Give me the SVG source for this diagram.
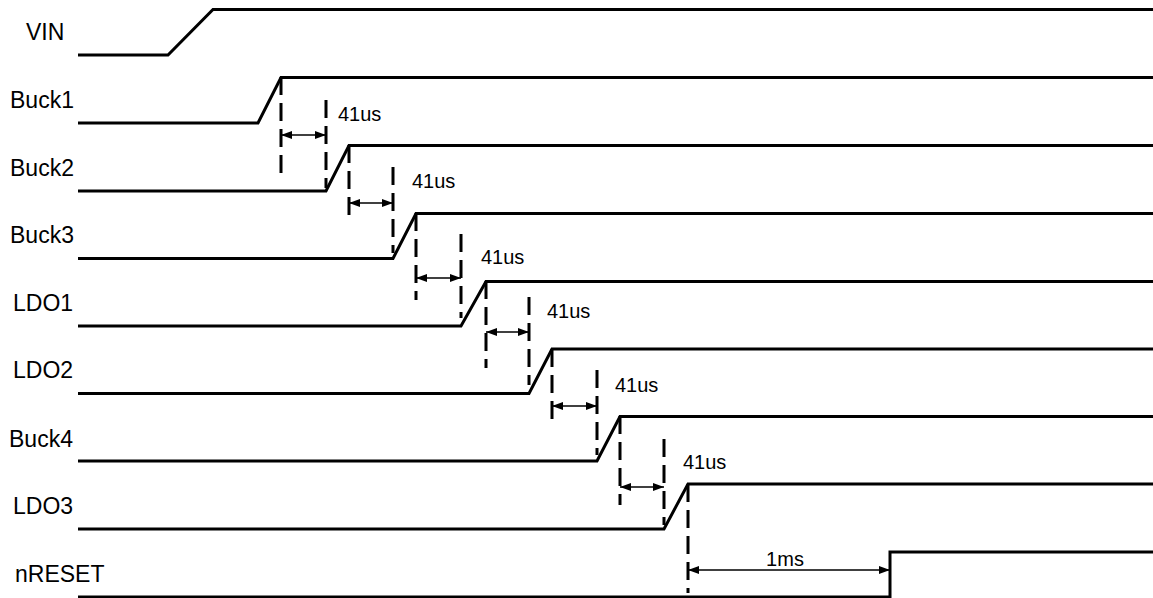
<svg xmlns="http://www.w3.org/2000/svg" width="1153" height="598" viewBox="0 0 1153 598">
<defs>
<style>
.sig{fill:none;stroke:#000;stroke-width:3;stroke-linejoin:miter}
.dash{fill:none;stroke:#000;stroke-width:3;stroke-dasharray:18 8}
.arr{fill:none;stroke:#000;stroke-width:1.5;marker-start:url(#ah);marker-end:url(#ah)}
.lbl{font-family:"Liberation Sans",Arial,sans-serif;font-size:23px;fill:#000}
.t{font-family:"Liberation Sans",Arial,sans-serif;font-size:20px;fill:#000}
</style>
<marker id="ah" markerUnits="userSpaceOnUse" markerWidth="12" markerHeight="10" refX="11" refY="4" orient="auto-start-reverse">
<path d="M0,0 L11,4 L0,8 z" fill="#000"/>
</marker>
</defs>
<rect width="1153" height="598" fill="#fff"/>
<g id="VIN"><text class="lbl" x="26" y="40">VIN</text><path class="sig" d="M78,55 H168 L213,9.5 H1153"/></g>
<g id="Buck1"><text class="lbl" x="10" y="108">Buck1</text><path class="sig" d="M78,123 H258 L281,77.5 H1153"/></g>
<g id="Buck2"><text class="lbl" x="10" y="176">Buck2</text><path class="sig" d="M78,191 H326 L349,145.5 H1153"/></g>
<g id="Buck3"><text class="lbl" x="10" y="243">Buck3</text><path class="sig" d="M78,258.5 H393 L416,213.5 H1153"/></g>
<g id="LDO1"><text class="lbl" x="13" y="311">LDO1</text><path class="sig" d="M78,326 H461 L486,281.5 H1153"/></g>
<g id="LDO2"><text class="lbl" x="13" y="378">LDO2</text><path class="sig" d="M78,393.5 H529 L552,349 H1153"/></g>
<g id="Buck4"><text class="lbl" x="9" y="447">Buck4</text><path class="sig" d="M78,461 H597 L620,416.5 H1153"/></g>
<g id="LDO3"><text class="lbl" x="13" y="514">LDO3</text><path class="sig" d="M78,529 H664 L688,484 H1153"/></g>
<g id="nRESET"><text class="lbl" x="15" y="582">nRESET</text><path class="sig" d="M78,597 H890 V552 H1153"/></g>
<g id="connectors">
<line class="dash" x1="281" y1="77" x2="281" y2="173"/>
<line class="dash" x1="326" y1="100" x2="326" y2="188"/>
<line class="arr" x1="281" y1="135" x2="326" y2="135"/>
<text class="t" x="338" y="121">41us</text>

<line class="dash" x1="349" y1="145" x2="349" y2="222"/>
<line class="dash" x1="393" y1="167" x2="393" y2="253"/>
<line class="arr" x1="349" y1="203" x2="393" y2="203"/>
<text class="t" x="412" y="188">41us</text>

<line class="dash" x1="416" y1="213" x2="416" y2="300"/>
<line class="dash" x1="461" y1="234" x2="461" y2="318"/>
<line class="arr" x1="416" y1="278" x2="461" y2="278"/>
<text class="t" x="481" y="264">41us</text>

<line class="dash" x1="486" y1="281" x2="486" y2="368"/>
<line class="dash" x1="529" y1="297" x2="529" y2="385"/>
<line class="arr" x1="486" y1="332" x2="529" y2="332"/>
<text class="t" x="547" y="318">41us</text>

<line class="dash" x1="552" y1="349" x2="552" y2="427"/>
<line class="dash" x1="597" y1="370" x2="597" y2="455"/>
<line class="arr" x1="552" y1="406" x2="597" y2="406"/>
<text class="t" x="615" y="392">41us</text>

<line class="dash" x1="620" y1="416" x2="620" y2="505"/>
<line class="dash" x1="664" y1="439" x2="664" y2="525"/>
<line class="arr" x1="620" y1="487" x2="664" y2="487"/>
<text class="t" x="683" y="469">41us</text>

<line class="dash" x1="688" y1="484" x2="688" y2="593"/>
<line class="arr" x1="688" y1="570" x2="890" y2="570"/>
<text class="t" x="785" y="566" text-anchor="middle">1ms</text>
</g>
</svg>
